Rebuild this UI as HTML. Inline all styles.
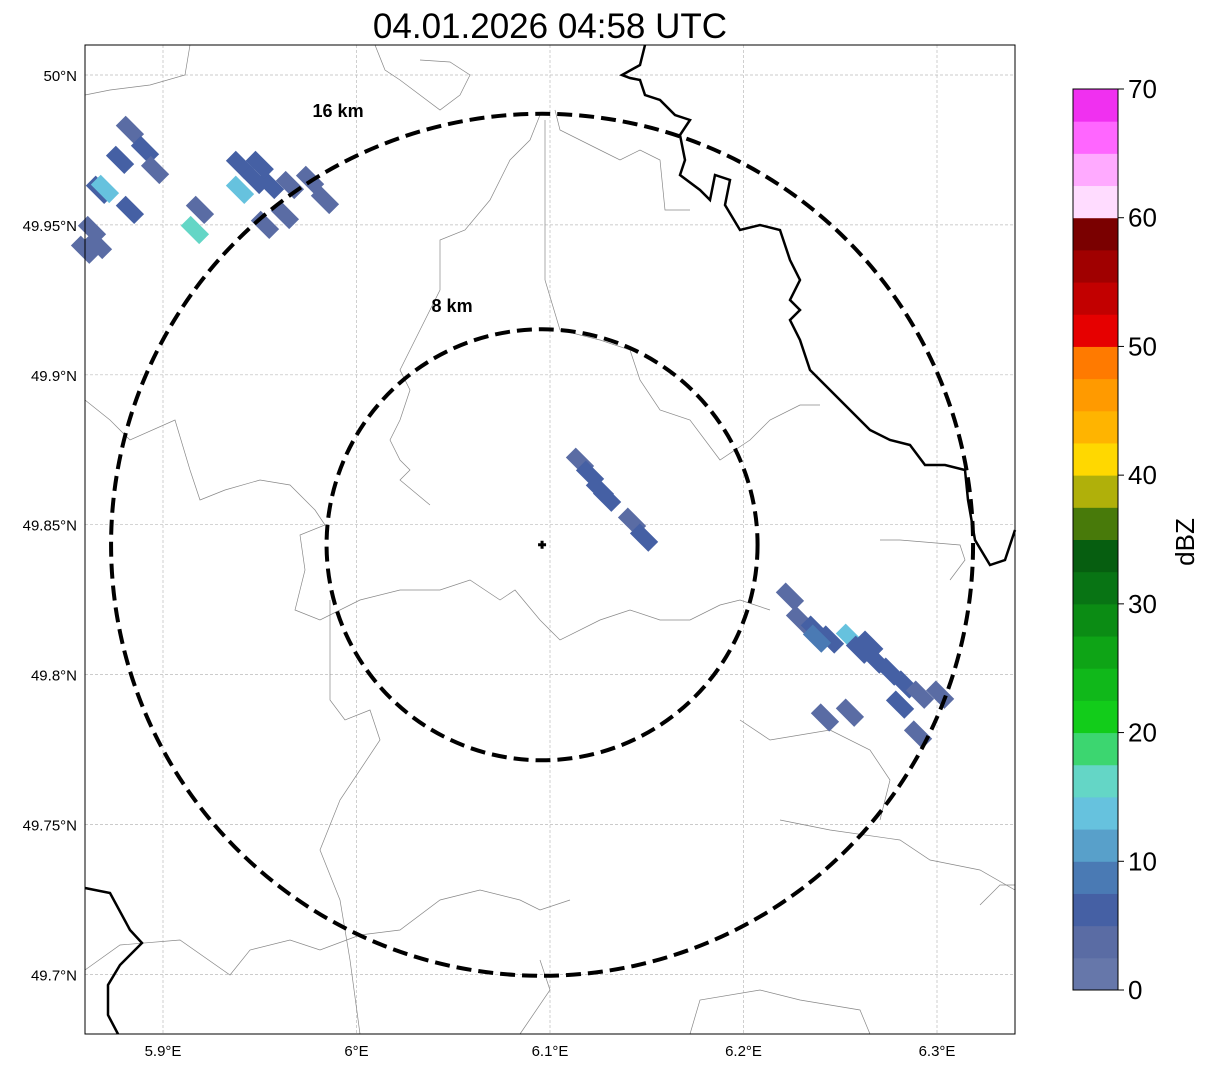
<!DOCTYPE html>
<html><head><meta charset="utf-8"><style>
body{margin:0;background:#fff;font-family:"Liberation Sans",sans-serif}
svg text{font-family:"Liberation Sans",sans-serif}
</style></head><body>
<svg id="s" width="1207" height="1069" xmlns="http://www.w3.org/2000/svg">
<text x="550" y="38" font-size="35" text-anchor="middle">04.01.2026 04:58 UTC</text>
<g id="grid"></g>
<g id="map" fill="none"></g>
<g id="echo"></g>
<g id="rings"></g>
<rect x="85" y="45" width="930" height="989" fill="none" stroke="#000" stroke-width="1"/>
<g id="axes"></g>
<g id="cbar"></g>
<text transform="translate(1194,542) rotate(-90)" font-size="26" text-anchor="middle">dBZ</text>
</svg>
<script>
// axis data
const lonTicks=[5.9,6.0,6.1,6.2,6.3];
const lonLabels=["5.9°E","6°E","6.1°E","6.2°E","6.3°E"];
const latTicks=[50.0,49.95,49.9,49.85,49.8,49.75,49.7];
const latLabels=["50°N","49.95°N","49.9°N","49.85°N","49.8°N","49.75°N","49.7°N"];
const ringKm=[8,16];
const radarLon=6.0959, radarLat=49.8433;
// echo cells
const cellLon=[6.1155,6.1207,6.1258,6.1295,6.1424,6.1486,
6.224,6.2292,6.2369,6.2447,6.255,6.2602,6.268,6.2757,6.2835,6.2912,6.3016,6.2809,6.2421,6.2550,6.2902,6.2380,6.2650,
5.8829,5.8778,5.8829,5.8674,5.8633,5.8664,5.8597,5.8907,5.8959,5.8700,
5.9398,5.9475,5.9553,5.9656,5.976,5.9837,5.9527,5.963,5.9191,5.9165,5.9398,5.9500];
const cellLat=[49.871,49.8667,49.8617,49.859,49.851,49.8457,
49.826,49.8183,49.815,49.8117,49.8123,49.8083,49.805,49.801,49.7967,49.7933,49.7933,49.79,49.7857,49.7873,49.78,49.8120,49.8100,
49.9817,49.9717,49.955,49.9617,49.9483,49.9433,49.9417,49.975,49.9683,49.9620,
49.97,49.965,49.9633,49.9633,49.965,49.9583,49.95,49.9533,49.955,49.9483,49.9617,49.9700];
const cellDbz=[4,5,5,6,3,5,
3,4,5,6,14,6,5,6,5,4,3,5,3,3,4,8,7,
4,5,5,6,4,3,3,5,4,13,
5,6,5,4,3,4,3,4,4,17,13,5];
// colorbar data
const cbColors=["#6677aa","#5a6ca4","#4560a4","#4a7ab4","#58a0ca","#66c2de","#64d6c6","#3cd670","#12cc1a","#10b81a","#0ea416","#0b8c14","#087414","#065e10","#487a0a","#b0b00a","#ffd800","#ffb400","#ff9a00","#ff7a00","#e60000","#c20000","#a00000","#7a0000","#ffdcff","#ffaaff","#ff66ff","#f030f0"];
const cbTicks=[0,10,20,30,40,50,60,70];

const NS="http://www.w3.org/2000/svg";
function mk(t,a,p){const e=document.createElementNS(NS,t);for(const k in a)e.setAttribute(k,a[k]);p.appendChild(e);return e;}
const X=lon=>163+(lon-5.9)*1935;
const Y=lat=>75+(50-lat)*2998;
const cx=X(radarLon), cy=Y(radarLat);
const kmPx=431/16;
const grid=document.getElementById('grid'), axes=document.getElementById('axes');
lonTicks.forEach((v,i)=>{
 const l=mk('line',{x1:X(v),x2:X(v),y1:45,y2:1034,stroke:'#bbb','stroke-width':0.7,'stroke-dasharray':'3,2'},grid);
 
 const t=mk('text',{x:X(v),y:1056,'font-size':15,'text-anchor':'middle'},axes);t.textContent=lonLabels[i];
 
});
latTicks.forEach((v,i)=>{
 const l=mk('line',{x1:85,x2:1015,y1:Y(v),y2:Y(v),stroke:'#bbb','stroke-width':0.7,'stroke-dasharray':'3,2'},grid);
 
 const t=mk('text',{x:77,y:Y(v)+6,'font-size':15,'text-anchor':'end'},axes);t.textContent=latLabels[i];
 
});
// map
const map=document.getElementById('map');
const grey=[
"85,95 110,90 150,85 185,75 190,45",
"85,400 110,420 130,440 175,420 190,470 200,500 225,490 260,480 290,485 315,510 325,525 300,535 305,570 295,610 320,620 360,600 400,590 440,590 470,580 500,600 515,590 540,620 560,640 600,620 630,610 660,620 690,620 720,605 740,600 770,610",
"540,115 530,140 510,160 490,200 465,230 440,240 440,290 420,330 410,350 400,370 410,390 400,420 390,440 400,460 410,470 400,480 430,505",
"555,110 560,130 600,150 620,160 640,150 660,160 665,210 690,210",
"545,120 545,280 560,330 600,340 630,350 640,380 660,410 690,420 720,460 750,440 770,420 800,405 820,405",
"880,540 900,540 960,545 965,560 950,580",
"330,600 330,700 345,720 370,710 380,740 340,800 320,850 340,900 350,960 360,1034",
"85,970 120,945 180,940 230,975 250,950 290,940 320,950 360,935 400,930 440,900 480,890 520,900 540,910 570,900",
"540,960 550,990 520,1034",
"780,820 830,830 900,840 930,860 980,870 1015,890",
"980,905 1000,885 1015,885",
"690,1034 700,1000 760,990 800,1000 860,1010 870,1034",
"740,720 770,740 830,730 870,750 890,780 880,820",
"420,60 450,62 470,75 460,95 440,110 400,80 385,70 375,45"];
grey.forEach(p=>{const e=mk('polyline',{points:p,stroke:'#888','stroke-width':0.7},map);});
const blk=["645,45 640,65 622,75 630,78 640,80 645,95 660,100 675,115 690,120 680,135 685,160 680,175 700,190 710,200 715,175 730,180 725,205 740,230 760,225 780,230 790,260 800,280 790,300 800,310 790,320 800,340 810,370 830,390 850,410 870,430 890,440 910,445 925,465 945,465 965,470 968,500 975,540 990,565 1005,560 1015,530",
"85,888 110,893 130,930 142,943 120,965 108,985 108,1015 118,1034"];
blk.forEach(p=>{const e=mk('polyline',{points:p,stroke:'#000','stroke-width':2.5},map);});
// echoes
const echo=document.getElementById('echo');
cellLon.forEach((lon,i)=>{
 const x=X(lon),y=Y(cellLat[i]);
 const r=mk('rect',{x:-13,y:-7,width:26,height:14,fill:cbColors[Math.min(27,Math.floor(cellDbz[i]/2.5))],transform:`translate(${x},${y}) rotate(45)`},echo);
 
});
// rings
const rings=document.getElementById('rings');
const lblDx=[90,204], lblDy=[233,428];
ringKm.forEach((k,i)=>{
 const c=mk('circle',{cx:cx,cy:cy,r:k*kmPx,fill:'none',stroke:'#000','stroke-width':4,'stroke-dasharray':'15,7'},rings);
 
 const t=mk('text',{x:cx-lblDx[i],y:cy-lblDy[i],'font-size':18,'font-weight':'bold','text-anchor':'middle'},rings);
 t.textContent=k+' km';
});
const m1=mk('path',{d:`M${cx-4},${cy}H${cx+4}M${cx},${cy-4}V${cy+4}`,stroke:'#000','stroke-width':3},rings);

// colorbar
const cb=document.getElementById('cbar');
const cbY=v=>990-(v/70)*901;
cbColors.forEach((c,i)=>{
 const r=mk('rect',{x:1073,y:cbY((i+1)*2.5),width:45,height:cbY(i*2.5)-cbY((i+1)*2.5)+0.5,fill:c},cb);
 
});
mk('rect',{x:1073,y:89,width:45,height:901,fill:'none',stroke:'#000','stroke-width':1},cb);
cbTicks.forEach(v=>{
 mk('line',{x1:1118,x2:1124,y1:cbY(v),y2:cbY(v),stroke:'#000'},cb);
 const t=mk('text',{x:1128,y:cbY(v)+9,'font-size':26},cb);t.textContent=v;
 
});
</script>
</body></html>
